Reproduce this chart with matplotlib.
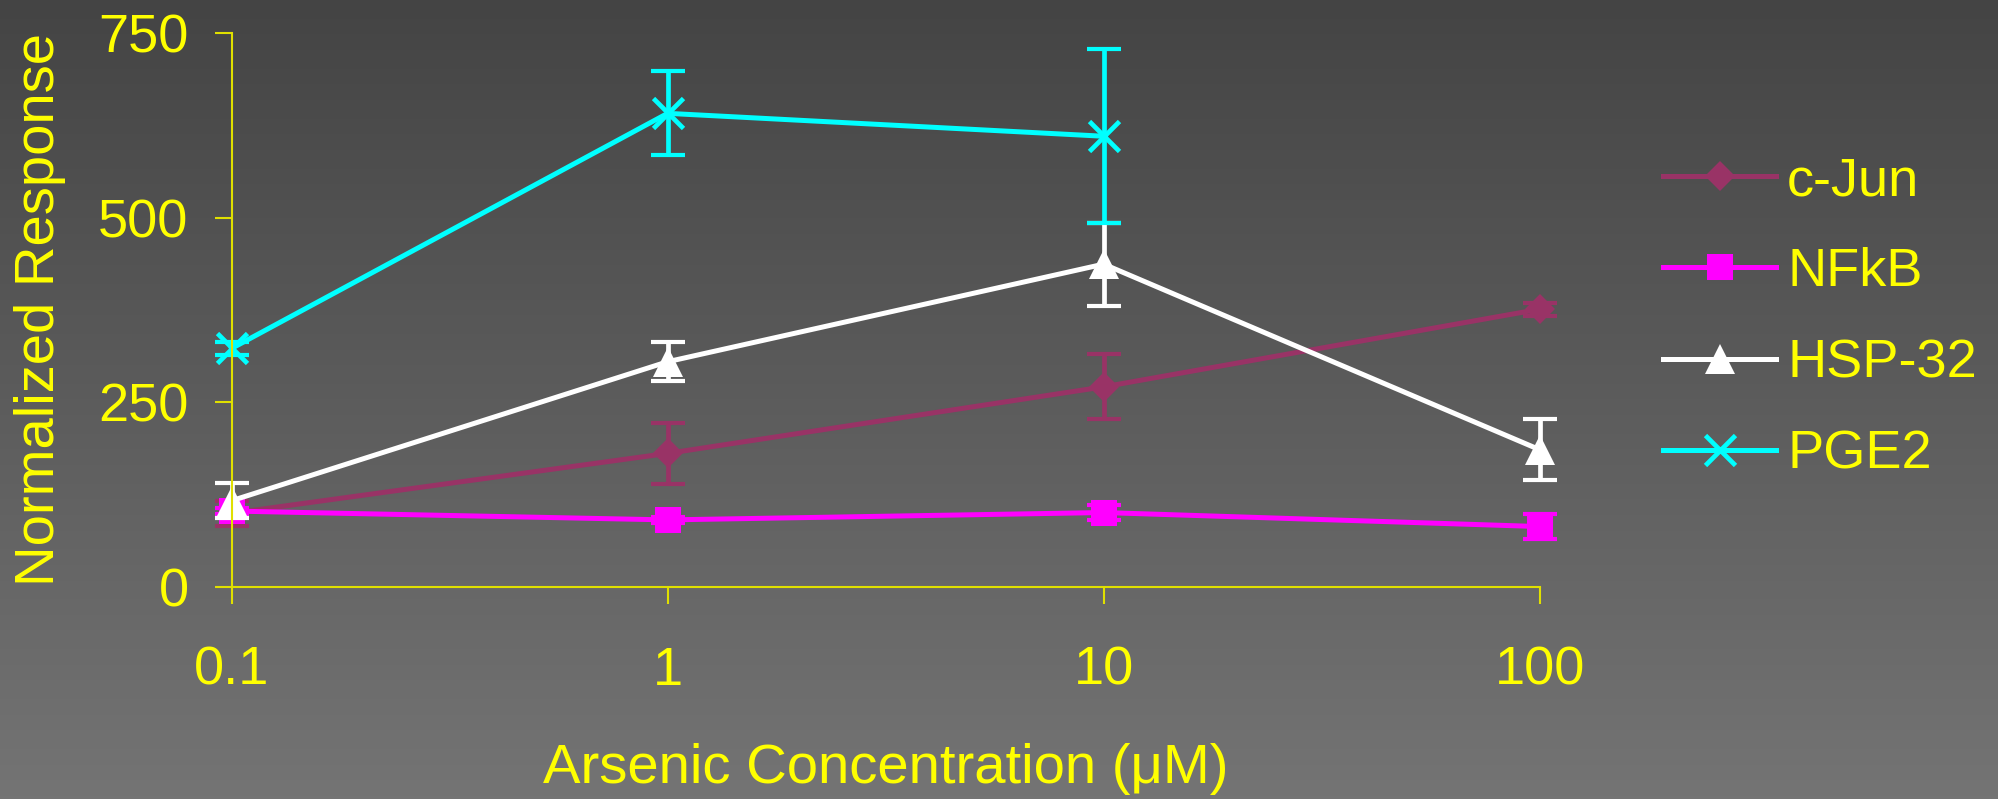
import numpy as np
import matplotlib.pyplot as plt
from matplotlib.colors import LinearSegmentedColormap

plt.rcParams['font.family'] = ['Liberation Sans', 'DejaVu Sans']

# arsenic concentration (uM)
conc = [0.1, 1, 10, 100]

cjun = [100, 181, 271, 376]
cjun_err = [17, 41, 44, 9]
nfkb = [103, 91, 101, 82]
nfkb_err = [4, 4, 10, 17]
hsp32 = [117, 305, 437, 186]
hsp32_err = [24, 26, 56, 41]
# PGE2 was only measured up to 10 uM
pge2 = [323, 641, 610]
pge2_err = [9, 57, 118]

yticks = [0, 250, 500, 750]
xticks = [0.1, 1, 10, 100]
xticklabels = ['0.1', '1', '10', '100']

yellow = '#ffff00'
fs = 39

fig = plt.figure(figsize=(19.99, 7.99), dpi=100)

# grey gradient background
bg = fig.add_axes([0, 0, 1, 1], zorder=-10)
grad = np.linspace(0, 1, 256).reshape(-1, 1)
cmap = LinearSegmentedColormap.from_list('bg', ['#444444', '#747474'])
bg.imshow(grad, aspect='auto', cmap=cmap, extent=[0, 1, 0, 1], origin='upper')
bg.set_axis_off()

ax = fig.add_axes([0.1159, 0.2651, 0.6543, 0.6939])
ax.set_facecolor('none')

series = [
    ('c-Jun', conc, cjun, cjun_err, '#993366', 'D', 15.3),
    ('NFkB', conc, nfkb, nfkb_err, '#ff00ff', 's', 18.7),
    ('HSP-32', conc, hsp32, hsp32_err, '#ffffff', '^', 21),
    ('PGE2', conc[:3], pge2, pge2_err, '#00ffff', 'x', 21.5),
]

for name, x, y, err, col, mk, ms in series:
    eb = ax.errorbar(x, y, yerr=err, fmt='none', ecolor=col, elinewidth=3.4,
                     capsize=12.2, capthick=3.0)
    for part in eb.lines:
        if part is None:
            continue
        for a in (part if isinstance(part, tuple) else [part]):
            a.set_clip_on(False)
    ax.plot(x, y, color=col, lw=3.6, marker=mk, ms=ms,
            mew=3.4 if mk == 'x' else 0, mec=col, mfc=col, label=name,
            clip_on=False)

ax.set_xscale('log')
ax.set_xlim(0.1, 100)
ax.set_ylim(0, 750)
ax.set_xticks(xticks)
ax.set_xticklabels(xticklabels)
ax.xaxis.set_minor_locator(plt.NullLocator())
ax.set_yticks(yticks)

for s in ['top', 'right']:
    ax.spines[s].set_visible(False)
for s in ['left', 'bottom']:
    ax.spines[s].set_color('#e0e000')
    ax.spines[s].set_linewidth(1.5)

ax.tick_params(axis='both', direction='out', length=12, width=1.5, color='#e0e000',
               labelcolor=yellow, labelsize=fs)
ax.tick_params(axis='x', pad=30)
ax.tick_params(axis='y', pad=19)

ax.set_xlabel('Arsenic Concentration (\u03bcM)', color=yellow, fontsize=40.5)
ax.xaxis.set_label_coords(0.5, -0.328)
ax.xaxis.label.set_va('center')
ax.set_ylabel('Normalized Response', color=yellow, fontsize=40.5)
ax.yaxis.set_label_coords(-0.1466, 0.5)
ax.yaxis.label.set_va('center')

leg = ax.legend(loc='upper left', bbox_to_anchor=(0.832, 0.8045),
                bbox_transform=fig.transFigure, frameon=False, fontsize=fs,
                borderpad=0, borderaxespad=0, handlelength=2.09,
                handletextpad=0.2, labelspacing=0.76, numpoints=1)
for t in leg.get_texts():
    t.set_color(yellow)

fig.savefig('out.png', dpi=100)
